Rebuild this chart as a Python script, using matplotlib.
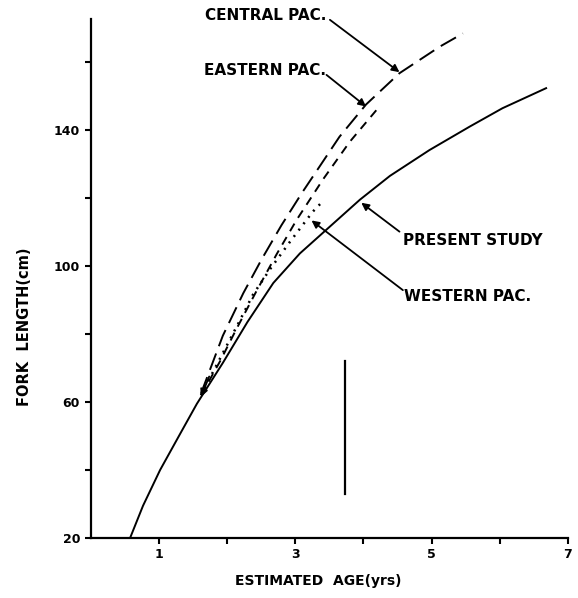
import matplotlib
matplotlib.use("Agg")
import matplotlib.pyplot as plt

# growth curves (age in years, fork length in cm)
present_age = [0.58, 0.77, 1.02, 1.31, 1.56, 1.94, 2.30, 2.68, 3.07, 3.51, 3.95, 4.39, 4.97, 5.56, 6.04, 6.68]
present_len = [20, 29.5, 40, 50.5, 59.5, 71.5, 83.5, 95, 103.7, 111.6, 119.5, 126.5, 134.1, 141, 146.4, 152.3]

central_age = [1.62, 1.94, 2.24, 2.51, 2.80, 3.10, 3.40, 3.65, 4.04, 4.53, 5.12, 5.46]
central_len = [62.5, 79.5, 92, 102, 112, 121.5, 130.5, 138, 147.5, 156.7, 164.5, 168.4]

eastern_age = [1.62, 1.90, 2.14, 2.43, 2.73, 3.02, 3.41, 3.80, 4.24]
eastern_len = [62, 72, 81.5, 92.5, 103.5, 113.5, 125.5, 136.5, 147]

western_age = [1.62, 1.80, 1.99, 2.19, 2.38, 2.63, 2.92, 3.26, 3.38]
western_len = [62, 69, 76.3, 84, 91.5, 99, 107, 116, 118.5]

bar_age = 3.73
bar_len = [33, 72]

xticks = [1, 3, 5, 7]
yticks = [20, 60, 100, 140]

plt.rcParams['font.family'] = 'DejaVu Sans'
plt.rcParams['font.weight'] = 'bold'

fig = plt.figure(figsize=(5.78, 5.98), dpi=100)
ax = fig.add_axes([0.1566, 0.1003, 0.826, 0.8677])

lw = 1.4
ax.plot(present_age, present_len, color='black', lw=lw)
ax.plot(central_age, central_len, color='black', lw=lw, dashes=(9, 4))
ax.plot(eastern_age, eastern_len, color='black', lw=lw, dashes=(4.5, 3.5))
ax.plot(western_age, western_len, color='black', lw=1.8, dashes=(0.8, 2.4))
ax.plot([bar_age, bar_age], bar_len, color='black', lw=1.6)

ax.set_xlim(0, 7)
ax.set_ylim(20, 172.6)
ax.set_xticks(xticks)
ax.set_xticks([2, 4, 6], minor=True)
ax.set_yticks(yticks)
ax.set_yticks([40, 80, 120, 160], minor=True)
ax.tick_params(which='both', direction='out', length=4.5, width=1.5, labelsize=9, pad=3)
for lab in ax.get_xticklabels() + ax.get_yticklabels():
    lab.set_fontweight('bold')

for s in ['top', 'right']:
    ax.spines[s].set_visible(False)
for s in ['left', 'bottom']:
    ax.spines[s].set_linewidth(1.6)

ax.set_xlabel('ESTIMATED  AGE(yrs)', fontsize=10, fontweight='bold')
ax.set_ylabel('FORK  LENGTH(cm)', fontsize=10.5, fontweight='bold')
ax.xaxis.set_label_coords(0.476, -0.07)
ax.yaxis.set_label_coords(-0.123, 0.407)

# curve labels
tkw = dict(fontsize=11, fontweight='bold', ha='left', va='center', clip_on=False)
ax.text(1.68, 173.8, 'CENTRAL PAC.', **tkw)
ax.text(1.67, 157.6, 'EASTERN PAC.', **tkw)
ax.text(4.58, 107.6, 'PRESENT STUDY', **tkw)
ax.text(4.6, 90.9, 'WESTERN PAC.', **tkw)

# pointer arrows (tip, start)
arrow = dict(arrowstyle='-|>', color='black', lw=1.3, mutation_scale=11,
             shrinkA=0, shrinkB=0)
ax.annotate('', xy=(4.53, 157), xytext=(3.51, 172.4), arrowprops=arrow, annotation_clip=False)
ax.annotate('', xy=(4.04, 146.9), xytext=(3.46, 156.2), arrowprops=arrow)
ax.annotate('', xy=(3.97, 118.6), xytext=(4.53, 110.1), arrowprops=arrow)
ax.annotate('', xy=(3.24, 113.4), xytext=(4.58, 92.9), arrowprops=arrow)
ax.annotate('', xy=(1.62, 61.5), xytext=(1.74, 67.5), arrowprops=arrow)

fig.savefig('out.png', dpi=100)
